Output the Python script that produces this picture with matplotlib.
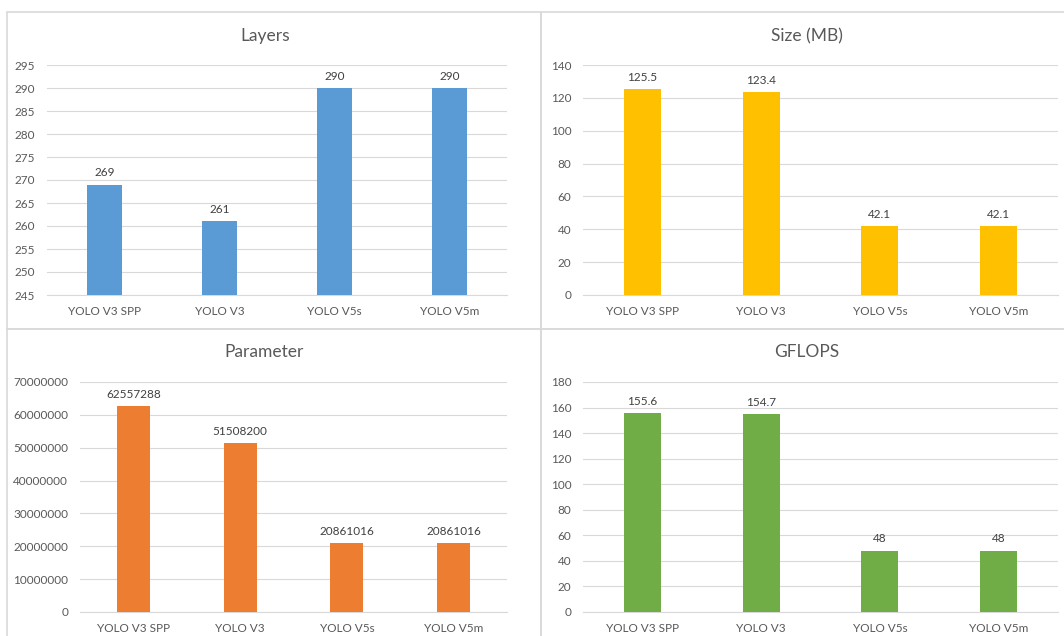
import matplotlib
matplotlib.use("Agg")
import matplotlib.pyplot as plt
from matplotlib.patches import Rectangle

plt.rcParams['font.family'] = ['Lato', 'DejaVu Sans']

models = ["YOLO V3 SPP", "YOLO V3", "YOLO V5s", "YOLO V5m"]

layers = [269, 261, 290, 290]
size_mb = [125.5, 123.4, 42.1, 42.1]
params = [62557288, 51508200, 20861016, 20861016]
gflops = [155.6, 154.7, 48, 48]

layers_labels = ["269", "261", "290", "290"]
size_labels = ["125.5", "123.4", "42.1", "42.1"]
params_labels = ["62557288", "51508200", "20861016", "20861016"]
gflops_labels = ["155.6", "154.7", "48", "48"]

layers_ticks = [245, 250, 255, 260, 265, 270, 275, 280, 285, 290, 295]
size_ticks = [0, 20, 40, 60, 80, 100, 120, 140]
params_ticks = [0, 10000000, 20000000, 30000000, 40000000,
                50000000, 60000000, 70000000]
gflops_ticks = [0, 20, 40, 60, 80, 100, 120, 140, 160, 180]

W, H = 1064, 636
TEXT = "#595959"
GRID = "#D9D9D9"

fig = plt.figure(figsize=(W / 100, H / 100), dpi=100)


def px_axes(left, top, right, bottom):
    return fig.add_axes([left / W, 1 - bottom / H,
                         (right - left) / W, (bottom - top) / H])


def panel_box(left, top, right, bottom):
    fig.patches.append(Rectangle((left / W, 1 - bottom / H),
                                 (right - left) / W, (bottom - top) / H,
                                 transform=fig.transFigure, fill=False,
                                 edgecolor=GRID, linewidth=1.2))


def bar_panel(ax, values, labels, ticks, color, title, title_xy):
    x = range(len(models))
    ax.bar(x, values, width=0.31, color=color, zorder=3)
    ax.set_xlim(-0.5, len(models) - 0.5)
    ax.set_ylim(ticks[0], ticks[-1])
    ax.set_yticks(ticks)
    ax.set_yticklabels([str(t) for t in ticks])
    ax.set_xticks(list(x))
    ax.set_xticklabels(models)
    ax.tick_params(axis='both', length=0, labelsize=8.5, colors=TEXT)
    ax.tick_params(axis='y', pad=8.5)
    ax.tick_params(axis='x', pad=8)
    ax.grid(axis='y', color=GRID, linewidth=0.8, zorder=0)
    for side in ['top', 'right', 'left']:
        ax.spines[side].set_visible(False)
    ax.spines['bottom'].set_color(GRID)
    ax.spines['bottom'].set_linewidth(0.8)
    for xi, v, lab in zip(x, values, labels):
        ax.annotate(lab, (xi, v), xytext=(0, 4.5), textcoords='offset points',
                    ha='center', va='bottom', fontsize=8.5, color="#404040")
    fig.text(title_xy[0] / W, 1 - title_xy[1] / H, title, ha='center',
             va='center', fontsize=12.5, color=TEXT)


# panel frames
panel_box(7, 12, 541, 329)
panel_box(541, 12, 1070, 329)
panel_box(7, 329, 541, 650)
panel_box(541, 329, 1070, 650)

ax1 = px_axes(47, 65, 507, 295)
bar_panel(ax1, layers, layers_labels, layers_ticks, "#5B9BD5", "Layers", (265, 36))

ax2 = px_axes(583, 65, 1058, 295)
bar_panel(ax2, size_mb, size_labels, size_ticks, "#FFC000", "Size (MB)", (807, 36))

ax3 = px_axes(80, 382, 507, 612)
bar_panel(ax3, params, params_labels, params_ticks, "#ED7D31", "Parameter", (264, 352))

ax4 = px_axes(583, 382, 1058, 612)
bar_panel(ax4, gflops, gflops_labels, gflops_ticks, "#70AD47", "GFLOPS", (807, 352))

fig.savefig("out.png", dpi=100)
